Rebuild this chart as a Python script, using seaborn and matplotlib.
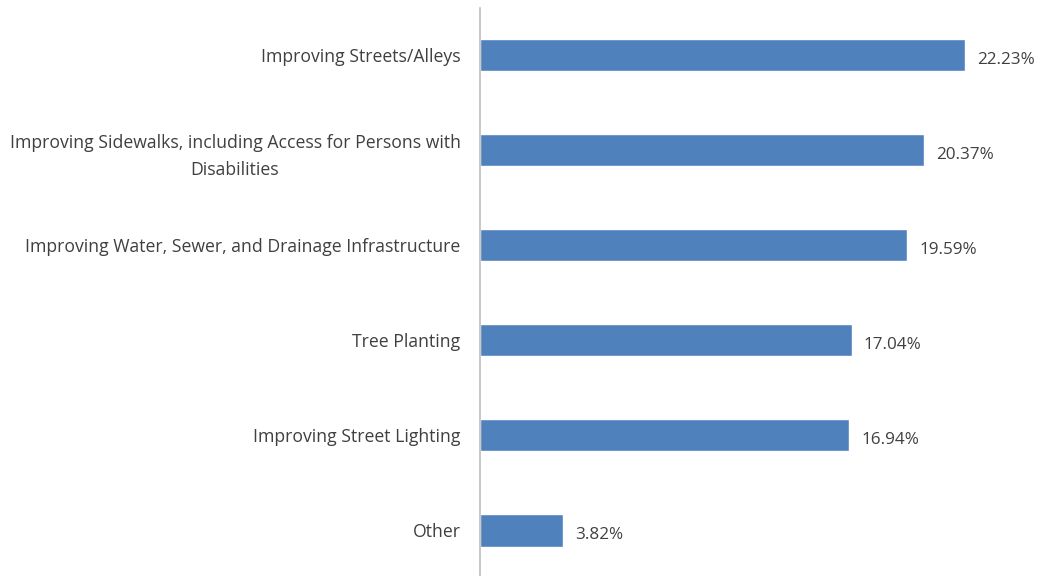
import matplotlib
matplotlib.use("Agg")
import matplotlib.pyplot as plt
import seaborn as sns
import pandas as pd

categories = [
    "Improving Streets/Alleys",
    "Improving Sidewalks, including Access for Persons with\nDisabilities",
    "Improving Water, Sewer, and Drainage Infrastructure",
    "Tree Planting",
    "Improving Street Lighting",
    "Other",
]
values = [22.23, 20.37, 19.59, 17.04, 16.94, 3.82]
value_labels = ["22.23%", "20.37%", "19.59%", "17.04%", "16.94%", "3.82%"]

sns.set_theme(style="white")
plt.rcParams["font.family"] = ["Open Sans", "DejaVu Sans"]

df = pd.DataFrame({"category": categories, "value": values})

fig = plt.figure(figsize=(10.47, 5.76), dpi=100)
ax = fig.add_axes([480 / 1047, 0.0, 1 - 480 / 1047, 1 - 8 / 576])
sns.barplot(data=df, x="value", y="category", color="#4F81BD", width=0.34,
            saturation=1, ax=ax, orient="h")

ax.set_xlim(0, 26)
ax.set_ylim(5.48, -0.495)
ax.set_xlabel("")
ax.set_ylabel("")
ax.set_xticks([])
for s in ["top", "right", "bottom"]:
    ax.spines[s].set_visible(False)
ax.spines["left"].set_color("#BFBFBF")
ax.spines["left"].set_linewidth(1.2)

ax.tick_params(axis="y", length=0, pad=14, labelsize=12.7, labelcolor="#404040")
for lbl in ax.get_yticklabels():
    lbl.set_multialignment("center")
    lbl.set_linespacing(1.6)

for i, (v, t) in enumerate(zip(values, value_labels)):
    ax.text(v + 0.55, i + 0.05, t, va="center", ha="left", fontsize=12.3, color="#404040")

fig.savefig("out.png", dpi=100)
